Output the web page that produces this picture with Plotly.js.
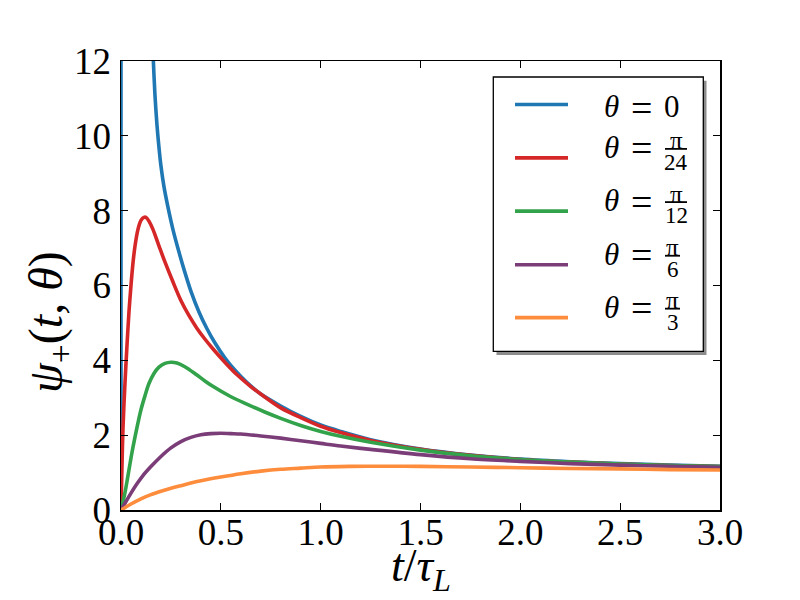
<!DOCTYPE html>
<html><head><meta charset="utf-8">
<script src="https://cdn.plot.ly/plotly-3.0.1.min.js"></script>
<style>html,body{margin:0;padding:0;background:#fff}#chart{width:800px;height:600px}</style>
</head><body><div id="chart"></div>
<script>
// ---- data (null = break between the edge spike at t=0 and the main branch) ----
const t_theta0 = [0, 0, null, 0.155, 0.162, 0.17, 0.18, 0.19, 0.2, 0.215, 0.235, 0.26, 0.29, 0.32, 0.35, 0.39, 0.43, 0.47, 0.52, 0.57, 0.63, 0.7, 0.8, 0.9, 1.0, 1.1, 1.25, 1.5, 1.75, 2.0, 2.25, 2.5, 2.75, 3.0];
const psi_theta0 = [0, 13, null, 12.9, 12.0, 11.1, 10.3, 9.7, 9.2, 8.65, 8.1, 7.5, 6.9, 6.35, 5.85, 5.3, 4.85, 4.47, 4.07, 3.74, 3.41, 3.1, 2.78, 2.5, 2.27, 2.1, 1.88, 1.63, 1.47, 1.36, 1.29, 1.24, 1.2, 1.17];

const t_pi24 = [0, 0.005, 0.01, 0.02, 0.03, 0.04, 0.05, 0.06, 0.07, 0.085, 0.1, 0.115, 0.125, 0.14, 0.16, 0.19, 0.22, 0.26, 0.3, 0.34, 0.38, 0.42, 0.46, 0.52, 0.58, 0.65, 0.72, 0.8, 0.9, 1.0, 1.1, 1.25, 1.5, 1.75, 2.0, 2.25, 2.5, 2.75, 3.0];
const psi_pi24 = [0, 1.2, 2.2, 3.4, 4.4, 5.3, 6.0, 6.6, 7.05, 7.5, 7.74, 7.82, 7.82, 7.72, 7.5, 7.06, 6.63, 6.1, 5.6, 5.2, 4.86, 4.57, 4.31, 3.95, 3.62, 3.3, 3.02, 2.73, 2.47, 2.24, 2.07, 1.86, 1.62, 1.46, 1.35, 1.28, 1.23, 1.19, 1.16];

const t_pi12 = [0, 0.018, 0.035, 0.052, 0.07, 0.085, 0.1, 0.12, 0.14, 0.165, 0.19, 0.22, 0.25, 0.28, 0.32, 0.377, 0.42, 0.462, 0.546, 0.63, 0.72, 0.8, 0.9, 1.0, 1.1, 1.25, 1.5, 1.75, 2.0, 2.25, 2.5, 2.75, 3.0];
const psi_pi12 = [0, 0.41, 0.92, 1.45, 1.95, 2.33, 2.68, 3.05, 3.38, 3.65, 3.82, 3.92, 3.95, 3.93, 3.83, 3.62, 3.45, 3.3, 3.04, 2.83, 2.62, 2.45, 2.26, 2.1, 1.97, 1.81, 1.6, 1.45, 1.35, 1.28, 1.23, 1.19, 1.16];

const t_pi6 = [0, 0.02, 0.05, 0.08, 0.11, 0.15, 0.2, 0.25, 0.3, 0.35, 0.4, 0.45, 0.5, 0.55, 0.6, 0.7, 0.8, 0.9, 1.0, 1.1, 1.25, 1.5, 1.75, 2.0, 2.25, 2.5, 2.75, 3.0];
const psi_pi6 = [0, 0.18, 0.45, 0.7, 0.92, 1.16, 1.43, 1.66, 1.83, 1.94, 2.01, 2.04, 2.05, 2.04, 2.03, 1.98, 1.92, 1.85, 1.78, 1.71, 1.62, 1.48, 1.37, 1.3, 1.24, 1.2, 1.17, 1.14];

const t_pi3 = [0, 0.05, 0.1, 0.15, 0.2, 0.25, 0.3, 0.35, 0.4, 0.5, 0.6, 0.7, 0.8, 0.9, 1.0, 1.15, 1.3, 1.5, 1.75, 2.0, 2.25, 2.5, 2.75, 3.0];
const psi_pi3 = [0, 0.16, 0.3, 0.41, 0.5, 0.58, 0.65, 0.72, 0.78, 0.88, 0.97, 1.04, 1.09, 1.12, 1.15, 1.165, 1.17, 1.165, 1.15, 1.13, 1.11, 1.1, 1.08, 1.07];

const xTicks = [0, 0.5, 1.0, 1.5, 2.0, 2.5, 3.0];
const xTickLabels = ['0.0', '0.5', '1.0', '1.5', '2.0', '2.5', '3.0'];
const yTicks = [0, 2, 4, 6, 8, 10, 12];
const yTickLabels = ['0', '2', '4', '6', '8', '10', '12'];

const seriesNames = ['θ = 0', 'θ = π/24', 'θ = π/12', 'θ = π/6', 'θ = π/3'];
const legendNumerators = ['', 'π', 'π', 'π', 'π'];
const legendDenominators = ['0', '24', '12', '6', '3'];

// ---- styles ----
const seriesColors = ['#1f78b4', '#d62728', '#33a34b', '#7b3d78', '#fd8d3c'];
const seriesT = [t_theta0, t_pi24, t_pi12, t_pi6, t_pi3];
const seriesPsi = [psi_theta0, psi_pi24, psi_pi12, psi_pi6, psi_pi3];

const FONT = 'Liberation Serif, DejaVu Serif, serif';
const L = 121, R = 720, T = 60.7, B = 510.3;
const px = x => (x - L) / (R - L);
const py = y => (B - y) / (B - T);

const traces = seriesNames.map((n, i) => ({
  type: 'scatter', mode: 'lines', name: n,
  x: seriesT[i], y: seriesPsi[i], connectgaps: false,
  line: {color: seriesColors[i], width: 3.6, shape: 'spline', smoothing: 0.9},
  hoverinfo: 'skip'
}));

const shapes = [];
const annotations = [];

// legend frame with shadow
shapes.push({type: 'rect', xref: 'paper', yref: 'paper', x0: px(496.5), x1: px(706.5), y0: py(80.5), y1: py(355),
  line: {width: 0}, fillcolor: '#8c8c8c', layer: 'above'});
shapes.push({type: 'rect', xref: 'paper', yref: 'paper', x0: px(493.3), x1: px(703.3), y0: py(76.7), y1: py(351.5),
  line: {width: 1.3, color: '#000'}, fillcolor: '#fff', layer: 'above'});

const legendLineY = [104.3, 157.7, 211, 264.7, 317.7];
legendLineY.forEach((yl, i) => {
  shapes.push({type: 'line', xref: 'paper', yref: 'paper', x0: px(515), x1: px(568), y0: py(yl), y1: py(yl),
    line: {color: seriesColors[i], width: 3.6}, layer: 'above'});
  const frac = legendNumerators[i] !== '';
  const yc = frac ? yl - 10.5 : yl + 2;
  annotations.push({xref: 'paper', yref: 'paper', x: px(602), y: py(yc), xanchor: 'left', yanchor: 'middle',
    text: '<i>θ</i>', showarrow: false, font: {family: FONT, size: 31, color: '#000'}});
  annotations.push({xref: 'paper', yref: 'paper', x: px(641), y: py(yc + 1), xanchor: 'center', yanchor: 'middle',
    text: '=', showarrow: false, font: {family: FONT, size: 38, color: '#000'}});
  if (!frac) {
    annotations.push({xref: 'paper', yref: 'paper', x: px(671.5), y: py(yc), xanchor: 'center', yanchor: 'middle',
      text: legendDenominators[i], showarrow: false, font: {family: FONT, size: 31, color: '#000'}});
  } else {
    const w = legendDenominators[i].length > 1 ? 22 : 15;
    const xc = 665 + w / 2;
    shapes.push({type: 'line', xref: 'paper', yref: 'paper', x0: px(665), x1: px(665 + w), y0: py(yl - 9), y1: py(yl - 9),
      line: {color: '#000', width: 1.8}, layer: 'above'});
    annotations.push({xref: 'paper', yref: 'paper', x: px(xc), y: py(yl - 17), xanchor: 'center', yanchor: 'middle',
      text: legendNumerators[i], showarrow: false, font: {family: FONT, size: 25, color: '#000'}});
    annotations.push({xref: 'paper', yref: 'paper', x: px(xc), y: py(yl + 4.5), xanchor: 'center', yanchor: 'middle',
      text: legendDenominators[i], showarrow: false, font: {family: FONT, size: 23, color: '#000'}});
  }
});

// axis titles
annotations.push({xref: 'paper', yref: 'paper', x: 0.5, y: py(569), xanchor: 'center', yanchor: 'middle',
  text: '<i>t</i>/<i>τ</i><sub><i>L</i></sub>', showarrow: false, font: {family: FONT, size: 46, color: '#000'}});
annotations.push({xref: 'paper', yref: 'paper', x: px(49), y: py(322), xanchor: 'center', yanchor: 'middle', textangle: -90,
  text: '<i>ψ</i><sub>+</sub>(<i>t</i>,<i> θ</i>)', showarrow: false, font: {family: FONT, size: 48, color: '#000'}});

const axisCommon = {
  ticks: 'inside', ticklen: 7, tickwidth: 1, tickcolor: '#000',
  showline: true, linecolor: '#000', linewidth: 1.5, mirror: 'ticks',
  showgrid: false, zeroline: false, fixedrange: true, layer: 'above traces',
  tickfont: {family: FONT, size: 37, color: '#000'}
};

const layout = {
  width: 800, height: 600,
  margin: {l: L, r: 800 - R, t: T, b: 600 - B, pad: 0},
  paper_bgcolor: '#fff', plot_bgcolor: '#fff',
  showlegend: false,
  font: {family: FONT, color: '#000'},
  xaxis: Object.assign({}, axisCommon, {range: [0, 3], tickmode: 'array', tickvals: xTicks, ticktext: xTickLabels, ticklabelstandoff: -11}),
  yaxis: Object.assign({}, axisCommon, {range: [0, 12], tickmode: 'array', tickvals: yTicks, ticktext: yTickLabels, ticklabelstandoff: 1}),
  shapes: shapes,
  annotations: annotations
};

Plotly.newPlot('chart', traces, layout, {staticPlot: true, displayModeBar: false});
</script>
</body></html>
